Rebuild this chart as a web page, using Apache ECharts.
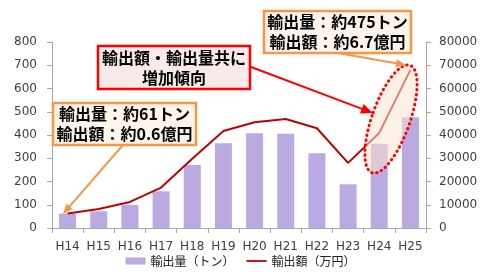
<!DOCTYPE html>
<html><head><meta charset="utf-8">
<script src="https://cdn.jsdelivr.net/npm/echarts@6/dist/echarts.min.js"></script>
<style>html,body{margin:0;padding:0;background:#fff}#c{width:481px;height:272px}</style>
</head><body><div id="c"></div>
<script>
var categories = ['H14','H15','H16','H17','H18','H19','H20','H21','H22','H23','H24','H25'];
var volumeTon = [62, 72, 99, 158, 271, 365, 408, 405, 321, 188, 362, 476];
var valueManYen = [6200, 8200, 11200, 17400, 29800, 41700, 45500, 46900, 42900, 28000, 40900, 68000];
var leftTicks = {min: 0, max: 800, interval: 100};
var rightTicks = {min: 0, max: 80000, interval: 10000};
var seriesNames = ['輸出量（トン）', '輸出額（万円）'];
var noteTrend = '輸出額・輸出量共に\n増加傾向';
var noteH25 = '輸出量：約475トン\n輸出額：約6.7億円';
var noteH14 = '輸出量：約61トン\n輸出額：約0.6億円';

var NUM = '"DejaVu Sans", Verdana, sans-serif';
var CJK = '"Noto Sans CJK JP", "Noto Sans", sans-serif';
var axisGrey = '#a6a6a6';
var labelCol = '#404040';

function arrow(x1, y1, x2, y2, color, w, hl, hw) {
  var dx = x2 - x1, dy = y2 - y1, L = Math.sqrt(dx*dx + dy*dy);
  var ux = dx / L, uy = dy / L, px = -uy, py = ux;
  var bx = x2 - ux*hl, by = y2 - uy*hl;
  return [
    {type:'line', z:100, shape:{x1:x1, y1:y1, x2:bx + ux*1, y2:by + uy*1}, style:{stroke:color, lineWidth:w}},
    {type:'polygon', z:100, shape:{points:[[x2,y2],[bx+px*hw/2, by+py*hw/2],[bx-px*hw/2, by-py*hw/2]]}, style:{fill:color}}
  ];
}
function box(x, y, w, h, fill, stroke, sw, text) {
  return [
    {type:'rect', z:100, shape:{x:x, y:y, width:w, height:h}, style:{fill:fill, stroke:stroke, lineWidth:sw}},
    {type:'text', z:101, x:x + w/2, y:y + h/2, style:{text:text, fill:'#000', font:'bold 16px ' + CJK, align:'center', verticalAlign:'middle', lineHeight:20}}
  ];
}

var chart = echarts.init(document.getElementById('c'), null, {renderer:'canvas'});
var graphics = [];
graphics.push({type:'ellipse', z:90, x:391, y:119, rotation:-0.34, shape:{cx:0, cy:0, rx:19, ry:57},
  style:{fill:'rgba(251,228,206,0.55)', stroke:'#ff0000', lineWidth:3, lineDash:[0.5,4.5], lineCap:'round'}});
graphics = graphics.concat(arrow(251, 67, 373, 113, '#ff0000', 2, 12, 10));
graphics = graphics.concat(arrow(338, 53, 406, 65, '#f79646', 2, 10, 8));
graphics = graphics.concat(arrow(123, 145, 63, 214, '#f79646', 2, 10, 8));
graphics = graphics.concat(box(98, 46, 152, 43, '#f8eaea', '#ff0000', 2.5, noteTrend));
graphics = graphics.concat(box(264, 11, 147, 42, '#fdf4ec', '#f79646', 2.5, noteH25));
graphics = graphics.concat(box(53, 103, 143, 42, '#fdf4ec', '#f79646', 2.5, noteH14));

chart.setOption({
  animation: false,
  grid: {left: 52, right: 55, top: 42, bottom: 44},
  legend: {
    bottom: 0, left: 'center', itemWidth: 20, itemHeight: 7, itemGap: 12,
    textStyle: {fontFamily: CJK, fontSize: 12, color: '#222'},
    data: [{name: seriesNames[0], icon: 'rect'},
           {name: seriesNames[1], icon: 'path://M0,0L22,0L22,2L0,2Z'}]
  },
  xAxis: {
    type: 'category', data: categories, boundaryGap: true,
    axisLine: {lineStyle: {color: axisGrey, width: 1}},
    axisTick: {show: true, length: 5, alignWithLabel: false, interval: 0, lineStyle: {color: axisGrey}},
    axisLabel: {fontFamily: NUM, fontSize: 12, color: labelCol, margin: 13, interval: 0}
  },
  yAxis: [
    {type: 'value', min: leftTicks.min, max: leftTicks.max, interval: leftTicks.interval,
     splitLine: {show: false},
     axisLine: {show: true, lineStyle: {color: axisGrey}},
     axisTick: {show: true, length: 5, lineStyle: {color: axisGrey}},
     axisLabel: {fontFamily: NUM, fontSize: 12, color: labelCol, margin: 15}},
    {type: 'value', min: rightTicks.min, max: rightTicks.max, interval: rightTicks.interval,
     splitLine: {show: false},
     axisLine: {show: true, lineStyle: {color: axisGrey}},
     axisTick: {show: true, length: 5, lineStyle: {color: axisGrey}},
     axisLabel: {fontFamily: NUM, fontSize: 12, color: labelCol, margin: 13,
                 formatter: function (v) { return String(v); }}}
  ],
  series: [
    {name: seriesNames[0], type: 'bar', data: volumeTon, yAxisIndex: 0, barWidth: 17,
     itemStyle: {color: '#bba9e1'}},
    {name: seriesNames[1], type: 'line', data: valueManYen, yAxisIndex: 1, symbol: 'none',
     lineStyle: {color: '#c00000', width: 2}, itemStyle: {color: '#c00000'}}
  ],
  graphic: graphics
});
</script></body></html>
